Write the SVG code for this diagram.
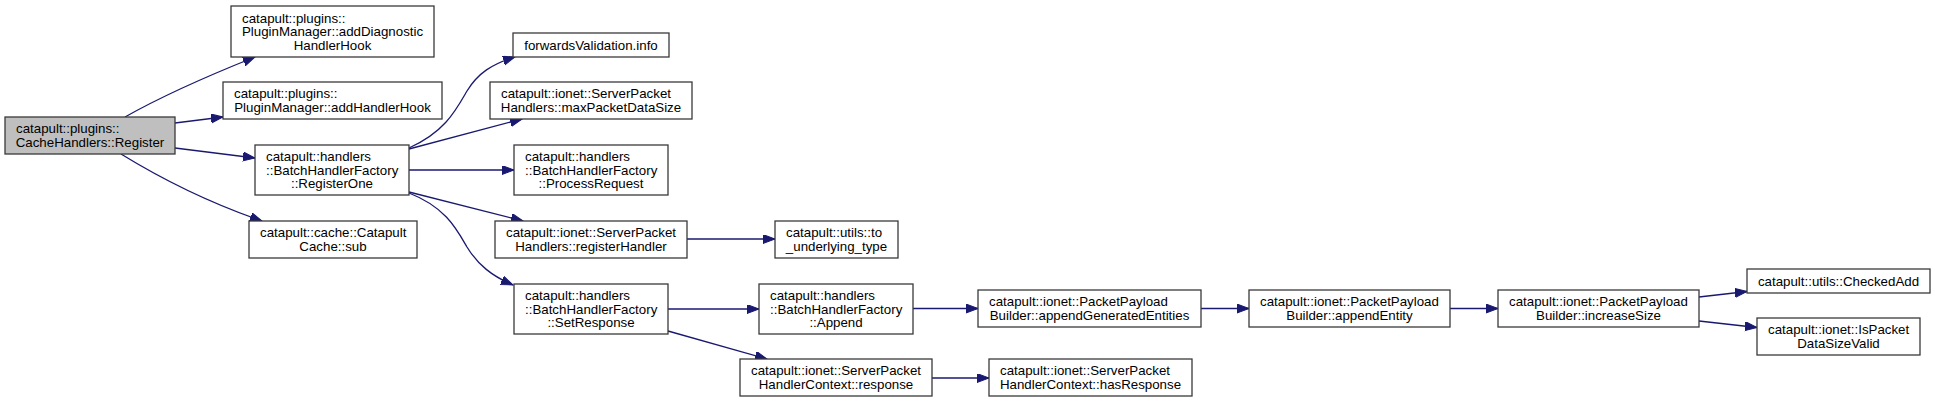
<svg xmlns="http://www.w3.org/2000/svg" width="1935" height="403" viewBox="0 0 1935 403">
<style>
.bg{fill:#ffffff}
.node rect{fill:#ffffff;stroke:#3a3a3a;stroke-width:1.3}
.node rect.cur{fill:#bfbfbf}
.node text{font-family:"Liberation Sans",Arial,sans-serif;font-size:13.3px;fill:#000000}
.l{text-anchor:start}
.c{text-anchor:middle}
.edges path{fill:none;stroke:#191970;stroke-width:1.3}
</style>
<defs>
<marker id="arr" markerUnits="userSpaceOnUse" markerWidth="13" markerHeight="10" refX="12" refY="4.5" orient="auto">
<path d="M0,0 L12,4.5 L0,9 Z" fill="#191970" stroke="#191970" stroke-width="1"/>
</marker>
</defs>
<rect class="bg" x="0" y="0" width="1935" height="403"/>
<g id="edges" class="edges">
<path marker-end="url(#arr)" d="M125,117 C155,100 200,79 255,57"/>
<path marker-end="url(#arr)" d="M175,123 L223,117"/>
<path marker-end="url(#arr)" d="M175,148 L255,158"/>
<path marker-end="url(#arr)" d="M121,154 C160,178 210,203 262,221"/>
<path marker-end="url(#arr)" d="M409,148 C445,132 456,110 467,91 C478,73 492,64 515,57"/>
<path marker-end="url(#arr)" d="M409,149 L522,119"/>
<path marker-end="url(#arr)" d="M409,170 L514,170"/>
<path marker-end="url(#arr)" d="M409,192 L523,221"/>
<path marker-end="url(#arr)" d="M409,193 C445,207 456,228 467,247 C478,265 492,276 513,285"/>
<path marker-end="url(#arr)" d="M687,239 L775,239"/>
<path marker-end="url(#arr)" d="M668,309 L759,309"/>
<path marker-end="url(#arr)" d="M668,331 L767,359"/>
<path marker-end="url(#arr)" d="M913,308.5 L978,308.5"/>
<path marker-end="url(#arr)" d="M932,378 L989,378"/>
<path marker-end="url(#arr)" d="M1201,308.5 L1249,308.5"/>
<path marker-end="url(#arr)" d="M1450,308.5 L1498,308.5"/>
<path marker-end="url(#arr)" d="M1699,297 L1747,291.5"/>
<path marker-end="url(#arr)" d="M1699,321 L1757,327.5"/>
</g>
<g id="n_register" class="node">
<rect class="cur" x="5" y="117" width="170" height="37"/>
<text class="l" x="16" y="133.25">catapult::plugins::</text>
<text class="c" x="90" y="146.75">CacheHandlers::Register</text>
</g>
<g id="n_addDiagnosticHandlerHook" class="node">
<rect x="231" y="6" width="203" height="51"/>
<text class="l" x="242" y="22.5">catapult::plugins::</text>
<text class="l" x="242" y="36">PluginManager::addDiagnostic</text>
<text class="c" x="332.5" y="49.5">HandlerHook</text>
</g>
<g id="n_addHandlerHook" class="node">
<rect x="223" y="82" width="219" height="37"/>
<text class="l" x="234" y="98.25">catapult::plugins::</text>
<text class="c" x="332.5" y="111.75">PluginManager::addHandlerHook</text>
</g>
<g id="n_registerOne" class="node">
<rect x="255" y="145" width="154" height="50"/>
<text class="l" x="266" y="161">catapult::handlers</text>
<text class="l" x="266" y="174.5">::BatchHandlerFactory</text>
<text class="c" x="332" y="188">::RegisterOne</text>
</g>
<g id="n_cacheSub" class="node">
<rect x="249" y="221" width="168" height="37"/>
<text class="l" x="260" y="237.25">catapult::cache::Catapult</text>
<text class="c" x="333" y="250.75">Cache::sub</text>
</g>
<g id="n_forwardsValidation" class="node">
<rect x="513" y="33" width="156" height="24"/>
<text class="c" x="591" y="49.5">forwardsValidation.info</text>
</g>
<g id="n_maxPacketDataSize" class="node">
<rect x="490" y="82" width="202" height="37"/>
<text class="l" x="501" y="98.25">catapult::ionet::ServerPacket</text>
<text class="c" x="591" y="111.75">Handlers::maxPacketDataSize</text>
</g>
<g id="n_processRequest" class="node">
<rect x="514" y="145" width="154" height="50"/>
<text class="l" x="525" y="161">catapult::handlers</text>
<text class="l" x="525" y="174.5">::BatchHandlerFactory</text>
<text class="c" x="591" y="188">::ProcessRequest</text>
</g>
<g id="n_registerHandler" class="node">
<rect x="495" y="221" width="192" height="37"/>
<text class="l" x="506" y="237.25">catapult::ionet::ServerPacket</text>
<text class="c" x="591" y="250.75">Handlers::registerHandler</text>
</g>
<g id="n_toUnderlyingType" class="node">
<rect x="775" y="221" width="123" height="37"/>
<text class="l" x="786" y="237.25">catapult::utils::to</text>
<text class="c" x="836.5" y="250.75">_underlying_type</text>
</g>
<g id="n_setResponse" class="node">
<rect x="514" y="284" width="154" height="50"/>
<text class="l" x="525" y="300">catapult::handlers</text>
<text class="l" x="525" y="313.5">::BatchHandlerFactory</text>
<text class="c" x="591" y="327">::SetResponse</text>
</g>
<g id="n_append" class="node">
<rect x="759" y="284" width="154" height="50"/>
<text class="l" x="770" y="300">catapult::handlers</text>
<text class="l" x="770" y="313.5">::BatchHandlerFactory</text>
<text class="c" x="836" y="327">::Append</text>
</g>
<g id="n_response" class="node">
<rect x="740" y="359" width="192" height="37"/>
<text class="l" x="751" y="375.25">catapult::ionet::ServerPacket</text>
<text class="c" x="836" y="388.75">HandlerContext::response</text>
</g>
<g id="n_hasResponse" class="node">
<rect x="989" y="359" width="203" height="37"/>
<text class="l" x="1000" y="375.25">catapult::ionet::ServerPacket</text>
<text class="c" x="1090.5" y="388.75">HandlerContext::hasResponse</text>
</g>
<g id="n_appendGeneratedEntities" class="node">
<rect x="978" y="290" width="223" height="37"/>
<text class="l" x="989" y="306.25">catapult::ionet::PacketPayload</text>
<text class="c" x="1089.5" y="319.75">Builder::appendGeneratedEntities</text>
</g>
<g id="n_appendEntity" class="node">
<rect x="1249" y="290" width="201" height="37"/>
<text class="l" x="1260" y="306.25">catapult::ionet::PacketPayload</text>
<text class="c" x="1349.5" y="319.75">Builder::appendEntity</text>
</g>
<g id="n_increaseSize" class="node">
<rect x="1498" y="290" width="201" height="37"/>
<text class="l" x="1509" y="306.25">catapult::ionet::PacketPayload</text>
<text class="c" x="1598.5" y="319.75">Builder::increaseSize</text>
</g>
<g id="n_checkedAdd" class="node">
<rect x="1747" y="269" width="183" height="24"/>
<text class="c" x="1838.5" y="285.5">catapult::utils::CheckedAdd</text>
</g>
<g id="n_isPacketDataSizeValid" class="node">
<rect x="1757" y="318" width="163" height="37"/>
<text class="l" x="1768" y="334.25">catapult::ionet::IsPacket</text>
<text class="c" x="1838.5" y="347.75">DataSizeValid</text>
</g>
</svg>
